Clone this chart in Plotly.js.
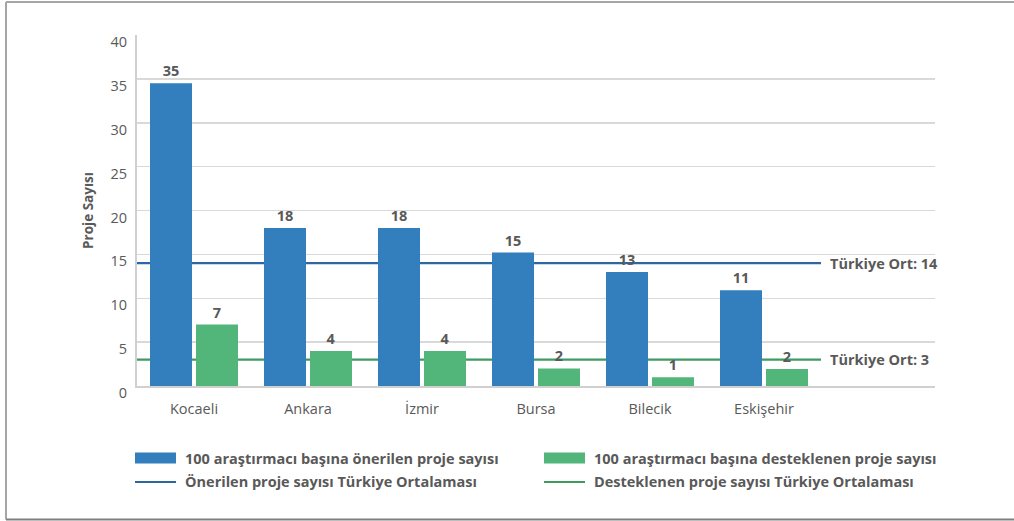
<!DOCTYPE html>
<html>
<head>
<meta charset="utf-8">
<script src="https://cdn.plot.ly/plotly-3.0.1.min.js"></script>
<style>html,body{margin:0;padding:0;background:#fff;}#chart{width:1014px;height:521px;}</style>
</head>
<body>
<div id="chart"></div>
<script>
// ---- Data ----
const categories = ['Kocaeli', 'Ankara', 'İzmir', 'Bursa', 'Bilecik', 'Eskişehir'];
const onerilen = [34.5, 18.0, 18.0, 15.2, 13.0, 10.9];
const onerilenLabels = ['35', '18', '18', '15', '13', '11'];
const desteklenen = [7.0, 4.0, 4.0, 2.0, 1.0, 1.95];
const desteklenenLabels = ['7', '4', '4', '2', '1', '2'];
const turkiyeOnerilen = 14;
const turkiyeDesteklenen = 3;
const seriesNames = [
  '100 araştırmacı başına önerilen proje sayısı',
  '100 araştırmacı başına desteklenen proje sayısı',
  'Önerilen proje sayısı Türkiye Ortalaması',
  'Desteklenen proje sayısı Türkiye Ortalaması'
];
const yTitle = 'Proje Sayısı';
const avgPrefix = 'Türkiye Ort: ';

// ---- Styling / layout ----
const W = 1014, H = 521;
const M = {l: 137, r: 79, t: 35, b: 135};
const PW = W - M.l - M.r, PH = H - M.t - M.b;
const px = x => (x - M.l) / PW;           // pixel x -> paper x
const py = y => (H - M.b - y) / PH;       // pixel y -> paper y

const BLUE = '#337fbe', GREEN = '#52b57a';
const BLUE_LINE = '#2e67a0', GREEN_LINE = '#3f9a62';
const TXT = '#595959';
const FONT = '"Open Sans", sans-serif';

const idx = categories.map((c, i) => i);
const nCat = categories.length;

const traces = [
  {type: 'bar', x: idx, y: onerilen, name: seriesNames[0], marker: {color: BLUE},
   text: onerilenLabels, textposition: 'outside', cliponaxis: false,
   textfont: {family: FONT, size: 14.5, color: TXT, weight: 'bold'}, hoverinfo: 'x+y'},
  {type: 'bar', x: idx, y: desteklenen, name: seriesNames[1], marker: {color: GREEN},
   text: desteklenenLabels, textposition: 'outside', cliponaxis: false,
   textfont: {family: FONT, size: 14.5, color: TXT, weight: 'bold'}, hoverinfo: 'x+y'}
];

const legendItems = [
  {kind: 'bar', color: BLUE, text: seriesNames[0], x: 135, y: 458},
  {kind: 'bar', color: GREEN, text: seriesNames[1], x: 544, y: 458},
  {kind: 'line', color: BLUE_LINE, text: seriesNames[2], x: 135, y: 482},
  {kind: 'line', color: GREEN_LINE, text: seriesNames[3], x: 544, y: 482}
];

const shapes = [
  // average lines (data coordinates, drawn behind the bars)
  {type: 'line', xref: 'x', yref: 'y', layer: 'between', x0: -0.5, x1: nCat - 0.5,
   y0: turkiyeOnerilen, y1: turkiyeOnerilen, line: {color: BLUE_LINE, width: 2.2}},
  {type: 'line', xref: 'x', yref: 'y', layer: 'between', x0: -0.5, x1: nCat - 0.5,
   y0: turkiyeDesteklenen, y1: turkiyeDesteklenen, line: {color: GREEN_LINE, width: 2.2}},
  // outer frame
  {type: 'line', xref: 'paper', yref: 'paper', x0: px(6), x1: px(6), y0: py(2), y1: py(519.5), line: {color: '#a6a6a6', width: 2}},
  {type: 'line', xref: 'paper', yref: 'paper', x0: px(6), x1: px(1020), y0: py(2), y1: py(2), line: {color: '#a6a6a6', width: 2}},
  {type: 'line', xref: 'paper', yref: 'paper', x0: px(6), x1: px(1020), y0: py(519.5), y1: py(519.5), line: {color: '#7f7f7f', width: 2}}
];
const annotations = [
  {xref: 'x', yref: 'y', x: nCat - 0.5, y: turkiyeOnerilen, xshift: 7, xanchor: 'left', yanchor: 'middle',
   text: avgPrefix + turkiyeOnerilen, showarrow: false, font: {family: FONT, size: 14.5, color: TXT, weight: 'bold'}},
  {xref: 'x', yref: 'y', x: nCat - 0.5, y: turkiyeDesteklenen, xshift: 7, xanchor: 'left', yanchor: 'middle',
   text: avgPrefix + turkiyeDesteklenen, showarrow: false, font: {family: FONT, size: 14.5, color: TXT, weight: 'bold'}}
];
legendItems.forEach(it => {
  if (it.kind === 'bar') {
    shapes.push({type: 'rect', xref: 'paper', yref: 'paper', x0: px(it.x), x1: px(it.x + 41),
      y0: py(it.y + 5.5), y1: py(it.y - 5.5), fillcolor: it.color, line: {width: 0}});
  } else {
    shapes.push({type: 'line', xref: 'paper', yref: 'paper', x0: px(it.x), x1: px(it.x + 41),
      y0: py(it.y), y1: py(it.y), line: {color: it.color, width: 2.2}});
  }
  annotations.push({xref: 'paper', yref: 'paper', x: px(it.x + 48), y: py(it.y), xanchor: 'left', yanchor: 'middle',
    text: it.text, showarrow: false, font: {family: FONT, size: 14.5, color: TXT, weight: 'bold'}});
});

const layout = {
  width: W, height: H,
  margin: M,
  paper_bgcolor: '#ffffff', plot_bgcolor: '#ffffff',
  showlegend: false,
  barmode: 'group', bargap: 0.193, bargroupgap: 0.087,
  font: {family: FONT, color: TXT},
  xaxis: {
    range: [-0.5, nCat + 0.5], tickmode: 'array', tickvals: idx, ticktext: categories,
    showgrid: false, zeroline: false, showline: true, linecolor: '#d0d0d0', linewidth: 2,
    ticks: '', ticklabelstandoff: 9, tickfont: {family: FONT, size: 14.5, color: TXT}, fixedrange: true
  },
  yaxis: {
    range: [0, 40], dtick: 5, tick0: 0, showgrid: true, gridcolor: '#d9d9d9', gridwidth: 1.5,
    zeroline: false, showline: true, linecolor: '#d0d0d0', linewidth: 2, ticks: '',
    tickfont: {family: FONT, size: 14.5, color: TXT}, ticklabelshift: 7, ticklabelstandoff: 5,
    title: {text: yTitle, font: {family: FONT, size: 13.5, color: TXT, weight: 'bold'}, standoff: 14},
    fixedrange: true
  },
  shapes: shapes,
  annotations: annotations
};

Plotly.newPlot('chart', traces, layout, {displayModeBar: false, staticPlot: true});
</script>
</body>
</html>
